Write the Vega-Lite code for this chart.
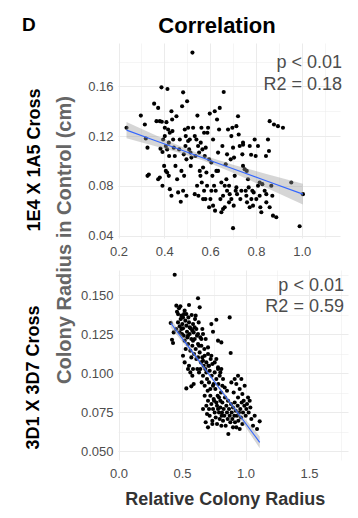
{
"$schema": "https://vega.github.io/schema/vega-lite/v6.json",
"padding": {"left": 21, "top": 14, "right": 4, "bottom": 4},
"background": "white",
"title": {"text": "D", "anchor": "start", "fontSize": 19, "fontWeight": "bold", "font": "Liberation Sans", "color": "black", "baseline": "alphabetic", "offset": -35, "dx": -2},
"config": {
  "font": "Liberation Sans",
  "view": {"stroke": null},
  "axis": {"ticks": false, "domain": false, "labelFont": "Liberation Sans", "labelFontSize": 13, "labelColor": "#4d4d4d", "gridColor": "#ebebeb", "titleFont": "Liberation Sans", "labelFlush": false, "labelOverlap": false}
},
"bounds": "flush",
"spacing": 32,
"datasets": {
"top": [{"x":0.235,"y":0.1267},{"x":0.2975,"y":0.1365},{"x":0.315,"y":0.1293},{"x":0.3193,"y":0.1181},{"x":0.3266,"y":0.1107},{"x":0.3324,"y":0.0891},{"x":0.3266,"y":0.088},
{"x":0.3556,"y":0.1461},{"x":0.3658,"y":0.132},{"x":0.3731,"y":0.1427},{"x":0.3803,"y":0.132},{"x":0.3876,"y":0.1592},{"x":0.3891,"y":0.1315},{"x":0.3949,"y":0.1173},{"x":0.4022,"y":0.1267},{"x":0.4065,"y":0.112},{"x":0.3833,"y":0.1099},{"x":0.392,"y":0.1072},{"x":0.4094,"y":0.1312},{"x":0.4138,"y":0.1579},{"x":0.4167,"y":0.1253},{"x":0.4196,"y":0.1147},{"x":0.3731,"y":0.0853},{"x":0.392,"y":0.08},{"x":0.3992,"y":0.096},{"x":0.4065,"y":0.092},{"x":0.4123,"y":0.0907},{"x":0.4196,"y":0.088},{"x":0.424,"y":0.0773},{"x":0.4022,"y":0.12},{"x":0.4123,"y":0.1093},{"x":0.421,"y":0.104},{"x":0.3803,"y":0.0867},{"x":0.424,"y":0.1227},
{"x":0.4312,"y":0.072},{"x":0.4312,"y":0.14},{"x":0.4341,"y":0.1333},{"x":0.4356,"y":0.124},{"x":0.4385,"y":0.1173},{"x":0.4414,"y":0.1107},{"x":0.4458,"y":0.104},{"x":0.4487,"y":0.096},{"x":0.4559,"y":0.0853},{"x":0.4603,"y":0.0747},{"x":0.4719,"y":0.0672},{"x":0.4777,"y":0.144},{"x":0.4821,"y":0.1552},{"x":0.4865,"y":0.088},{"x":0.4894,"y":0.1253},{"x":0.4937,"y":0.12},{"x":0.4995,"y":0.148},{"x":0.5039,"y":0.116},{"x":0.5083,"y":0.1093},{"x":0.5141,"y":0.1067},{"x":0.5184,"y":0.1027},{"x":0.5228,"y":0.1872},{"x":0.5257,"y":0.1267},{"x":0.5112,"y":0.1173},{"x":0.5155,"y":0.096},{"x":0.4748,"y":0.092},{"x":0.485,"y":0.1053},{"x":0.4923,"y":0.112},{"x":0.4966,"y":0.1013},{"x":0.5039,"y":0.1267},{"x":0.4676,"y":0.1173},{"x":0.4647,"y":0.1093},{"x":0.453,"y":0.136},{"x":0.4821,"y":0.076},{"x":0.4966,"y":0.072},
{"x":0.533,"y":0.0733},{"x":0.5402,"y":0.1173},{"x":0.5446,"y":0.1365},{"x":0.5475,"y":0.112},{"x":0.5519,"y":0.1067},{"x":0.5548,"y":0.092},{"x":0.5591,"y":0.1147},{"x":0.562,"y":0.1267},{"x":0.5664,"y":0.1093},{"x":0.5693,"y":0.0947},{"x":0.5737,"y":0.1227},{"x":0.5766,"y":0.104},{"x":0.5809,"y":0.1107},{"x":0.5838,"y":0.0907},{"x":0.5882,"y":0.1227},{"x":0.5911,"y":0.1267},{"x":0.5955,"y":0.1013},{"x":0.5984,"y":0.1381},{"x":0.6013,"y":0.0693},{"x":0.6056,"y":0.0987},{"x":0.61,"y":0.088},{"x":0.6129,"y":0.1173},{"x":0.6173,"y":0.08},{"x":0.6202,"y":0.14},{"x":0.6245,"y":0.076},{"x":0.6274,"y":0.092},{"x":0.533,"y":0.12},{"x":0.5359,"y":0.104},{"x":0.5431,"y":0.08},{"x":0.549,"y":0.072},{"x":0.5577,"y":0.088},{"x":0.5635,"y":0.0827},{"x":0.5693,"y":0.0693},{"x":0.5737,"y":0.076},{"x":0.5795,"y":0.0693},{"x":0.5867,"y":0.08},{"x":0.5955,"y":0.0627},{"x":0.6056,"y":0.076},{"x":0.6129,"y":0.064},{"x":0.6216,"y":0.06},
{"x":0.6303,"y":0.1333},{"x":0.6347,"y":0.1067},{"x":0.6391,"y":0.1253},{"x":0.642,"y":0.1427},{"x":0.6449,"y":0.0693},{"x":0.6492,"y":0.0827},{"x":0.6536,"y":0.112},{"x":0.6565,"y":0.072},{"x":0.6594,"y":0.1555},{"x":0.6638,"y":0.0627},{"x":0.6681,"y":0.0973},{"x":0.671,"y":0.0853},{"x":0.674,"y":0.1053},{"x":0.6783,"y":0.1253},{"x":0.6827,"y":0.08},{"x":0.6856,"y":0.0733},{"x":0.6899,"y":0.1013},{"x":0.6928,"y":0.12},{"x":0.6972,"y":0.1267},{"x":0.7001,"y":0.1107},{"x":0.7045,"y":0.1027},{"x":0.7074,"y":0.088},{"x":0.7117,"y":0.076},{"x":0.7147,"y":0.128},{"x":0.7176,"y":0.0733},{"x":0.7219,"y":0.136},{"x":0.7248,"y":0.1213},{"x":0.7292,"y":0.112},{"x":0.7001,"y":0.0459},{"x":0.6347,"y":0.092},{"x":0.6492,"y":0.0587},{"x":0.6565,"y":0.0613},{"x":0.6638,"y":0.08},{"x":0.674,"y":0.076},{"x":0.6827,"y":0.0667},{"x":0.6928,"y":0.0693},{"x":0.703,"y":0.064},{"x":0.7147,"y":0.0787},
{"x":0.7365,"y":0.076},{"x":0.7408,"y":0.1053},{"x":0.7437,"y":0.1147},{"x":0.751,"y":0.0933},{"x":0.7553,"y":0.076},{"x":0.7583,"y":0.072},{"x":0.7612,"y":0.0667},{"x":0.7684,"y":0.0787},{"x":0.7728,"y":0.0627},{"x":0.7801,"y":0.0693},{"x":0.7844,"y":0.076},{"x":0.7902,"y":0.0747},{"x":0.7946,"y":0.1173},{"x":0.799,"y":0.104},{"x":0.8019,"y":0.0693},{"x":0.8091,"y":0.08},{"x":0.8164,"y":0.072},{"x":0.8193,"y":0.0627},{"x":0.8237,"y":0.0587},{"x":0.828,"y":0.0813},{"x":0.7437,"y":0.096},{"x":0.7655,"y":0.0853},{"x":0.7321,"y":0.0693},{"x":0.7873,"y":0.064},
{"x":0.8382,"y":0.076},{"x":0.8455,"y":0.0733},{"x":0.8527,"y":0.1173},{"x":0.8571,"y":0.108},{"x":0.86,"y":0.132},{"x":0.8673,"y":0.08},{"x":0.8716,"y":0.072},{"x":0.8745,"y":0.056},{"x":0.8789,"y":0.1293},{"x":0.8891,"y":0.0547},{"x":0.8963,"y":0.128},{"x":0.9181,"y":0.1267},{"x":0.8455,"y":0.0667},{"x":0.86,"y":0.0627},{"x":0.8164,"y":0.0827},
{"x":0.9545,"y":0.0827},{"x":0.9908,"y":0.0475},{"x":1.0053,"y":0.0733},
{"x":0.744,"y":0.113},{"x":0.773,"y":0.112},{"x":0.809,"y":0.112},{"x":0.779,"y":0.105},{"x":0.844,"y":0.104},{"x":0.76,"y":0.092}],
"topfit": [{"x":0.235,"fit":0.1248,"lo":0.1183,"hi":0.1313},{"x":0.35,"fit":0.1171,"lo":0.1125,"hi":0.1217},{"x":0.45,"fit":0.1104,"lo":0.1073,"hi":0.1135},{"x":0.57,"fit":0.1024,"lo":0.1003,"hi":0.1045},{"x":0.7,"fit":0.0937,"lo":0.0905,"hi":0.0969},{"x":0.85,"fit":0.0837,"lo":0.0781,"hi":0.0893},{"x":1.005,"fit":0.0733,"lo":0.065,"hi":0.0816}],
"topann": [{"x":1.176,"y":0.1748,"label":"p < 0.01"},{"x":1.176,"y":0.1573,"label":"R2 = 0.18"}],
"bot": [{"x":0.4108,"y":0.1321},{"x":0.4213,"y":0.1214},{"x":0.4291,"y":0.1193},{"x":0.4344,"y":0.1261},{"x":0.4423,"y":0.163},{"x":0.4554,"y":0.1432},{"x":0.4606,"y":0.1393},{"x":0.4685,"y":0.1378},{"x":0.4764,"y":0.1415},{"x":0.4816,"y":0.13},{"x":0.4869,"y":0.1428},{"x":0.4895,"y":0.1346},{"x":0.4948,"y":0.1283},{"x":0.5,"y":0.1251},{"x":0.5026,"y":0.1314},{"x":0.5079,"y":0.1287},{"x":0.5131,"y":0.124},{"x":0.5157,"y":0.1378},{"x":0.521,"y":0.14},{"x":0.521,"y":0.1208},{"x":0.5262,"y":0.1336},{"x":0.5289,"y":0.1155},{"x":0.5341,"y":0.1304},{"x":0.5394,"y":0.1265},{"x":0.542,"y":0.1229},{"x":0.5472,"y":0.1187},{"x":0.5499,"y":0.1357},{"x":0.5551,"y":0.1436},{"x":0.5551,"y":0.1325},{"x":0.5604,"y":0.1251},{"x":0.5656,"y":0.1144},{"x":0.5682,"y":0.1287},{"x":0.5735,"y":0.1219},{"x":0.5761,"y":0.1372},{"x":0.5814,"y":0.1176},{"x":0.5866,"y":0.1314},{"x":0.5866,"y":0.1027},{"x":0.5919,"y":0.1261},{"x":0.5945,"y":0.1123},{"x":0.5997,"y":0.1219},{"x":0.6024,"y":0.1346},{"x":0.6076,"y":0.1155},{"x":0.6129,"y":0.1283},{"x":0.6129,"y":0.1091},{"x":0.6181,"y":0.124},{"x":0.6207,"y":0.1027},{"x":0.626,"y":0.1479},{"x":0.626,"y":0.1187},{"x":0.6312,"y":0.1325},{"x":0.6339,"y":0.1005},{"x":0.6391,"y":0.1421},{"x":0.6391,"y":0.1133},{"x":0.6444,"y":0.1229},{"x":0.6496,"y":0.1069},{"x":0.6522,"y":0.1176},{"x":0.6549,"y":0.0941},{"x":0.6601,"y":0.1101},{"x":0.6654,"y":0.1251},{"x":0.6654,"y":0.0984},{"x":0.6706,"y":0.1048},{"x":0.6759,"y":0.1155},{"x":0.6785,"y":0.092},{"x":0.6837,"y":0.1027},{"x":0.6864,"y":0.1219},{"x":0.6916,"y":0.1069},{"x":0.6969,"y":0.0963},{"x":0.7021,"y":0.0888},{"x":0.7047,"y":0.1123},{"x":0.7073,"y":0.1048},{"x":0.7126,"y":0.0941},{"x":0.7178,"y":0.1016},{"x":0.7231,"y":0.0856},{"x":0.7257,"y":0.1091},{"x":0.731,"y":0.1314},{"x":0.7336,"y":0.0984},{"x":0.7388,"y":0.1059},{"x":0.7441,"y":0.1265},{"x":0.7441,"y":0.092},{"x":0.752,"y":0.0824},{"x":0.7572,"y":0.1005},{"x":0.7625,"y":0.0899},{"x":0.7703,"y":0.1342},{"x":0.7703,"y":0.0963},{"x":0.7756,"y":0.0792},{"x":0.7808,"y":0.0856},{"x":0.7835,"y":0.1208},{"x":0.7861,"y":0.0931},{"x":0.7913,"y":0.0749},{"x":0.7966,"y":0.0984},{"x":0.8018,"y":0.0824},{"x":0.8071,"y":0.0877},{"x":0.8097,"y":0.1197},{"x":0.8123,"y":0.0728},{"x":0.8176,"y":0.092},
{"x":0.5341,"y":0.0903},{"x":0.5735,"y":0.0916},{"x":0.5919,"y":0.0931},{"x":0.5551,"y":0.1048},{"x":0.5656,"y":0.1005},{"x":0.5079,"y":0.1112},{"x":0.521,"y":0.1069},{"x":0.5472,"y":0.1027},{"x":0.5814,"y":0.0984},
{"x":0.6785,"y":0.0856},{"x":0.6916,"y":0.0792},{"x":0.7047,"y":0.0824},{"x":0.7126,"y":0.0771},{"x":0.7178,"y":0.0728},{"x":0.731,"y":0.0803},{"x":0.7388,"y":0.0696},{"x":0.7441,"y":0.0771},{"x":0.7493,"y":0.0835},{"x":0.7572,"y":0.0749},{"x":0.7651,"y":0.0717},{"x":0.7703,"y":0.0813},{"x":0.7756,"y":0.0675},{"x":0.7835,"y":0.0771},{"x":0.7913,"y":0.0845},{"x":0.7966,"y":0.0707},{"x":0.8018,"y":0.0781},{"x":0.8097,"y":0.0664},{"x":0.815,"y":0.0749},{"x":0.8176,"y":0.0813},{"x":0.8228,"y":0.0696},{"x":0.8281,"y":0.0771},{"x":0.8333,"y":0.0728},{"x":0.8386,"y":0.0845},{"x":0.8438,"y":0.0664},{"x":0.8491,"y":0.0792},{"x":0.8543,"y":0.0749},{"x":0.8596,"y":0.0707},{"x":0.8622,"y":0.0824},{"x":0.8648,"y":0.0611},{"x":0.8701,"y":0.0771},{"x":0.8753,"y":0.0728},{"x":0.8753,"y":0.1357},{"x":0.8806,"y":0.0686},{"x":0.8832,"y":0.1129},{"x":0.8858,"y":0.0803},{"x":0.8911,"y":0.0749},{"x":0.8963,"y":0.0707},{"x":0.9016,"y":0.0781},{"x":0.9016,"y":0.0654},{"x":0.9068,"y":0.0877},{"x":0.9121,"y":0.0728},{"x":0.9147,"y":0.0813},{"x":0.9173,"y":0.0686},{"x":0.9226,"y":0.076},{"x":0.9278,"y":0.0931},{"x":0.9278,"y":0.0654},{"x":0.9331,"y":0.0728},{"x":0.9383,"y":0.0792},{"x":0.941,"y":0.0845},{"x":0.9436,"y":0.0696},{"x":0.9488,"y":0.0749},{"x":0.9541,"y":0.0643},{"x":0.9541,"y":0.0899},{"x":0.9593,"y":0.0771},{"x":0.9646,"y":0.0717},{"x":0.9672,"y":0.0963},{"x":0.9698,"y":0.0813},{"x":0.9751,"y":0.0675},{"x":0.9803,"y":0.0749},{"x":0.9856,"y":0.0824},{"x":0.9908,"y":0.0792},{"x":0.9934,"y":0.092},{"x":1.0013,"y":0.0728},{"x":1.0066,"y":0.0771},{"x":1.0118,"y":0.0803},{"x":1.0197,"y":0.0845},{"x":1.0249,"y":0.0749},{"x":1.0328,"y":0.0824},{"x":1.0381,"y":0.0781},{"x":1.0459,"y":0.0707},
{"x":0.6864,"y":0.0686},{"x":0.7047,"y":0.0654},{"x":0.7388,"y":0.0675},{"x":0.6654,"y":0.0771},{"x":0.6969,"y":0.0739},{"x":0.7231,"y":0.0899},{"x":0.7493,"y":0.0931},{"x":0.7835,"y":0.1027},{"x":0.8018,"y":0.1005},{"x":0.8228,"y":0.0963},{"x":0.836,"y":0.0909},{"x":0.8543,"y":0.0888},{"x":0.8885,"y":0.0941},{"x":0.9147,"y":0.0963},{"x":0.941,"y":0.0984},{"x":0.9751,"y":0.0867},
{"x":1.0906,"y":0.0643},{"x":1.1115,"y":0.0692},{"x":1.0591,"y":0.0664},{"x":1.0722,"y":0.0728},
{"x":0.4685,"y":0.1325},{"x":0.4948,"y":0.1368},{"x":0.5079,"y":0.1357},{"x":0.5341,"y":0.1378},{"x":0.5472,"y":0.124},{"x":0.5604,"y":0.1293},{"x":0.5814,"y":0.1272},{"x":0.5997,"y":0.1293},{"x":0.626,"y":0.1251},{"x":0.6522,"y":0.1219},{"x":0.6785,"y":0.1112},{"x":0.7047,"y":0.1165},{"x":0.6076,"y":0.1368},{"x":0.6339,"y":0.1176},{"x":0.6601,"y":0.1283},{"x":0.4816,"y":0.1261},{"x":0.4554,"y":0.1283},{"x":0.5735,"y":0.1101},{"x":0.5866,"y":0.1208},{"x":0.626,"y":0.1101},{"x":0.6444,"y":0.1027},{"x":0.6654,"y":0.108},{"x":0.6916,"y":0.1005},{"x":0.7126,"y":0.1048},{"x":0.731,"y":0.1112},{"x":0.7572,"y":0.1069},{"x":0.7703,"y":0.1091},{"x":0.7835,"y":0.1037},{"x":0.8097,"y":0.1027}],
"botfit": [{"x":0.411,"fit":0.1321,"lo":0.1293,"hi":0.1349},{"x":0.55,"fit":0.117,"lo":0.1152,"hi":0.1188},{"x":0.74,"fit":0.0963,"lo":0.0954,"hi":0.0972},{"x":0.9,"fit":0.0789,"lo":0.0773,"hi":0.0805},{"x":1.0,"fit":0.068,"lo":0.0656,"hi":0.0704},{"x":1.112,"fit":0.0558,"lo":0.052,"hi":0.0596}],
"botann": [{"x":1.775,"y":0.1527,"label":"p < 0.01"},{"x":1.775,"y":0.1389,"label":"R2 = 0.59"}]
},
"vconcat": [
{
  "width": 222, "height": 195,
  "title": {"text": "Correlation", "fontSize": 22, "fontWeight": "bold", "color": "black", "anchor": "middle", "dx": -12, "offset": -11.5, "baseline": "alphabetic"},
  "layer": [
    {"data": {"name": "top"}, "mark": {"type": "circle", "size": 17, "color": "black", "opacity": 1},
     "encoding": {
       "x": {"field": "x", "type": "quantitative", "scale": {"domain": [0.1978, 1.1672], "nice": false, "zero": false},
             "axis": {"values": [0.2,0.3,0.4,0.5,0.6,0.7,0.8,0.9,1.0,1.1], "labelExpr": "round(datum.value*10) % 2 == 0 ? format(datum.value, '.1f') : ''", "gridWidth": {"condition": {"test": "round(datum.value*10) % 2 == 0", "value": 1}, "value": 0.5}, "labelPadding": 7, "title": null}},
       "y": {"field": "y", "type": "quantitative", "scale": {"domain": [0.038, 0.1949], "nice": false, "zero": false},
             "axis": {"orient": "left", "values": [0.04,0.06,0.08,0.1,0.12,0.14,0.16,0.18], "labelExpr": "round(datum.value*100) % 4 == 0 ? format(datum.value, '.2f') : ''", "gridWidth": {"condition": {"test": "round(datum.value*100) % 4 == 0", "value": 1}, "value": 0.5}, "labelPadding": 5,
                      "title": "1E4 X 1A5 Cross", "titleFontSize": 18, "titleFontWeight": "bold", "titleColor": "black", "titleX": -79, "titleY": 116.5, "titleAngle": -90, "titleBaseline": "alphabetic", "titleAlign": "center"}}
     }},
    {"data": {"name": "topfit"}, "mark": {"type": "area", "color": "#999999", "opacity": 0.4},
     "encoding": {
       "x": {"field": "x", "type": "quantitative", "scale": {"domain": [0.1978, 1.1672], "nice": false, "zero": false}, "axis": null},
       "y": {"field": "lo", "type": "quantitative", "scale": {"domain": [0.038, 0.1949], "nice": false, "zero": false},
             "axis": {"orient": "left", "labels": false, "ticks": false, "domain": false, "grid": false, "title": "Colony Radius in Control (cm)", "titleFontSize": 20, "titleFontWeight": "bold", "titleColor": "#666666", "titleX": -48, "titleY": 196.5, "titleAngle": -90, "titleBaseline": "alphabetic", "titleAlign": "center"}},
       "y2": {"field": "hi"}
     }},
    {"data": {"name": "topfit"}, "mark": {"type": "line", "color": "#3366FF", "strokeWidth": 1.1},
     "encoding": {
       "x": {"field": "x", "type": "quantitative", "scale": {"domain": [0.1978, 1.1672], "nice": false, "zero": false}, "axis": null},
       "y": {"field": "fit", "type": "quantitative", "scale": {"domain": [0.038, 0.1949], "nice": false, "zero": false}, "axis": null}
     }},
    {"data": {"name": "topann"}, "mark": {"type": "text", "align": "right", "baseline": "alphabetic", "fontSize": 18, "color": "#4d4d4d", "font": "Liberation Sans"},
     "encoding": {
       "x": {"field": "x", "type": "quantitative", "scale": {"domain": [0.1978, 1.1672], "nice": false, "zero": false}, "axis": null},
       "y": {"field": "y", "type": "quantitative", "scale": {"domain": [0.038, 0.1949], "nice": false, "zero": false}, "axis": null},
       "text": {"field": "label"}
     }}
  ],
  "resolve": {"axis": {"x": "independent", "y": "independent"}}
},
{
  "width": 230, "height": 190,
  "layer": [
    {"data": {"name": "bot"}, "mark": {"type": "circle", "size": 17, "color": "black", "opacity": 1},
     "encoding": {
       "x": {"field": "x", "type": "quantitative", "scale": {"domain": [-0.004, 1.807], "nice": false, "zero": false},
             "axis": {"values": [0,0.25,0.5,0.75,1,1.25,1.5,1.75], "labelExpr": "round(datum.value*4) % 2 == 0 ? format(datum.value, '.1f') : ''", "gridWidth": {"condition": {"test": "round(datum.value*4) % 2 == 0", "value": 1}, "value": 0.5}, "labelPadding": 7,
                      "title": "Relative Colony Radius", "titleFontSize": 18, "titleFontWeight": "bold", "titleColor": "#333333", "titleX": 106.7, "titleY": 44, "titleBaseline": "alphabetic", "titleAlign": "center"}},
       "y": {"field": "y", "type": "quantitative", "scale": {"domain": [0.0445, 0.166], "nice": false, "zero": false},
             "axis": {"orient": "left", "values": [0.05,0.0625,0.075,0.0875,0.1,0.1125,0.125,0.1375,0.15,0.1625], "labelExpr": "round(datum.value*1000) % 25 == 0 ? format(datum.value, '.3f') : ''", "gridWidth": {"condition": {"test": "round(datum.value*1000) % 25 == 0", "value": 1}, "value": 0.5}, "labelPadding": 5,
                      "title": "3D1 X 3D7 Cross", "titleFontSize": 18, "titleFontWeight": "bold", "titleColor": "black", "titleX": -80, "titleY": 107, "titleAngle": -90, "titleBaseline": "alphabetic", "titleAlign": "center"}}
     }},
    {"data": {"name": "botfit"}, "mark": {"type": "area", "color": "#999999", "opacity": 0.4},
     "encoding": {
       "x": {"field": "x", "type": "quantitative", "scale": {"domain": [-0.004, 1.807], "nice": false, "zero": false}, "axis": null},
       "y": {"field": "lo", "type": "quantitative", "scale": {"domain": [0.0445, 0.166], "nice": false, "zero": false}, "axis": null},
       "y2": {"field": "hi"}
     }},
    {"data": {"name": "botfit"}, "mark": {"type": "line", "color": "#3366FF", "strokeWidth": 1.1},
     "encoding": {
       "x": {"field": "x", "type": "quantitative", "scale": {"domain": [-0.004, 1.807], "nice": false, "zero": false}, "axis": null},
       "y": {"field": "fit", "type": "quantitative", "scale": {"domain": [0.0445, 0.166], "nice": false, "zero": false}, "axis": null}
     }},
    {"data": {"name": "botann"}, "mark": {"type": "text", "align": "right", "baseline": "alphabetic", "fontSize": 18, "color": "#4d4d4d", "font": "Liberation Sans"},
     "encoding": {
       "x": {"field": "x", "type": "quantitative", "scale": {"domain": [-0.004, 1.807], "nice": false, "zero": false}, "axis": null},
       "y": {"field": "y", "type": "quantitative", "scale": {"domain": [0.0445, 0.166], "nice": false, "zero": false}, "axis": null},
       "text": {"field": "label"}
     }}
  ],
  "resolve": {"axis": {"x": "independent", "y": "independent"}}
}
]
}
